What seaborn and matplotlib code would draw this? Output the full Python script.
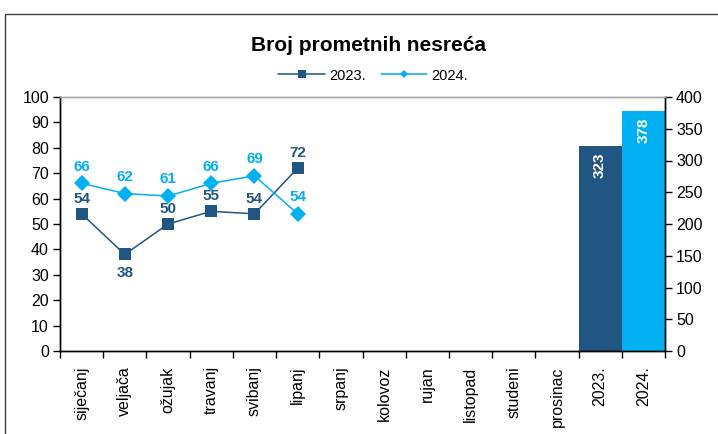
import matplotlib
matplotlib.use("Agg")
import matplotlib.pyplot as plt
from matplotlib.lines import Line2D
from matplotlib.patches import Rectangle
import pandas as pd
import seaborn as sns

# chart data
categories = ["siječanj", "veljača", "ožujak", "travanj", "svibanj", "lipanj",
              "srpanj", "kolovoz", "rujan", "listopad", "studeni", "prosinac",
              "2023.", "2024."]
months_2023 = [54, 38, 50, 55, 54, 72]
months_2024 = [66, 62, 61, 66, 69, 54]
year_labels = ["2023.", "2024."]
year_totals = [323, 378]

DARK = "#215582"
LIGHT = "#00B0F0"
FONT = ["Liberation Sans", "DejaVu Sans"]


def build_frames():
    n = len(months_2023)
    lines = pd.DataFrame({
        "pos": list(range(n)) * 2,
        "value": months_2023 + months_2024,
        "year": ["2023."] * n + ["2024."] * n,
    })
    bars = pd.DataFrame({
        "pos": [categories.index(y) for y in year_labels],
        "value": year_totals,
        "year": year_labels,
    })
    return lines, bars


def main() -> None:
    sns.set_theme(style="white")
    plt.rcParams["font.family"] = FONT
    for key in ("text.color", "xtick.color", "ytick.color", "axes.labelcolor"):
        plt.rcParams[key] = "black"

    lines, bars = build_frames()
    palette = {"2023.": DARK, "2024.": LIGHT}

    fig = plt.figure(figsize=(7.18, 4.34), dpi=100, facecolor="white")
    fig.patches.append(Rectangle((5 / 718, -0.1), 1.2, 1.1 - 14 / 434,
                                 transform=fig.transFigure, fill=False,
                                 edgecolor="#404040", linewidth=1.0))
    ax = fig.add_axes([60 / 718, 83 / 434, 605 / 718, 254 / 434])
    ax2 = ax.twinx()

    sns.barplot(data=bars, x="pos", y="value", hue="year", palette=palette,
                native_scale=True, dodge=False, width=1.0, legend=False,
                saturation=1, edgecolor="none", ax=ax2)
    for x, v in zip(bars["pos"], bars["value"]):
        ax2.annotate(str(v), (x, v), xytext=(0, -5), textcoords="offset points",
                     ha="center", va="top", rotation=90, color="white",
                     fontsize=11, fontweight="bold")

    sns.lineplot(data=lines, x="pos", y="value", hue="year", style="year",
                 palette=palette, markers={"2023.": "s", "2024.": "D"},
                 dashes=False, markersize=8, markeredgewidth=0, linewidth=1.1,
                 legend=False, ax=ax)
    ax.set_zorder(ax2.get_zorder() + 1)
    ax.patch.set_visible(False)

    for i, v in enumerate(months_2024):
        ax.annotate(str(v), (i, v), xytext=(0, 7), textcoords="offset points",
                    ha="center", va="bottom", color=LIGHT,
                    fontsize=11, fontweight="bold")
    for i, v in enumerate(months_2023):
        if i == 1:
            ax.annotate(str(v), (i, v), xytext=(0, -8), textcoords="offset points",
                        ha="center", va="top", color=DARK,
                        fontsize=11, fontweight="bold")
        else:
            ax.annotate(str(v), (i, v), xytext=(0, 6), textcoords="offset points",
                        ha="center", va="bottom", color=DARK,
                        fontsize=11, fontweight="bold")

    n = len(categories)
    for a in (ax, ax2):
        a.set_xlim(-0.5, n - 0.5)
        a.set_xlabel("")
        a.set_ylabel("")
        a.set_xticks([i - 0.5 for i in range(n + 1)])
        a.set_xticklabels([])
        a.set_xticks(range(n), minor=True)
        for s in ("left", "right", "bottom"):
            a.spines[s].set_color("black")
            a.spines[s].set_linewidth(1.0)
        a.spines["top"].set_color("#A6A6A6")
        a.spines["top"].set_linewidth(1.0)
    ax.set_xticklabels(categories, minor=True, rotation=90, fontsize=11.5)
    ax.tick_params(axis="x", which="major", length=5, width=1, color="black",
                   direction="out", bottom=True)
    ax.tick_params(axis="x", which="minor", length=0, pad=11)
    ax2.tick_params(axis="x", which="both", bottom=False, labelbottom=False)

    ax.set_ylim(0, 100)
    ax.set_yticks(range(0, 101, 10))
    ax.tick_params(axis="y", length=5, width=1, color="black", direction="out",
                   left=True, labelsize=11.5, pad=3)
    ax2.set_ylim(0, 400)
    ax2.set_yticks(range(0, 401, 50))
    ax2.tick_params(axis="y", length=5, width=1, color="black", direction="out",
                    right=True, labelsize=11.5, pad=3)

    fig.text(0.513, 0.895, "Broj prometnih nesreća", ha="center", va="center",
             fontsize=15, fontweight="bold")

    handles = [
        Line2D([], [], color=DARK, marker="s", markersize=6, linewidth=1.1,
               markeredgewidth=0),
        Line2D([], [], color=LIGHT, marker="D", markersize=4.5, linewidth=1.1,
               markeredgewidth=0),
    ]
    fig.legend(handles, year_labels, loc="center", bbox_to_anchor=(0.52, 0.826),
               ncol=2, frameon=False, fontsize=10.5, handlelength=3.2,
               handletextpad=0.3, columnspacing=1.0)

    fig.savefig("out.png", dpi=100, facecolor="white")
    plt.close(fig)


if __name__ == "__main__":
    main()
